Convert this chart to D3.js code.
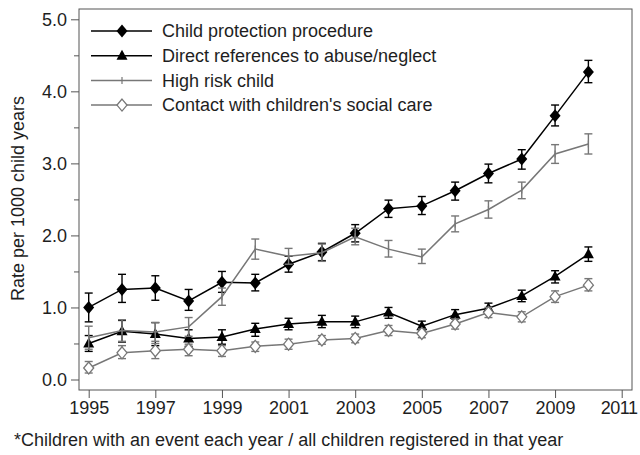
<!DOCTYPE html>
<html>
<head>
<meta charset="utf-8">
<script src="https://cdn.jsdelivr.net/npm/d3@7"></script>
<style>
  body { margin: 0; background: #fff; }
  svg { display: block; font-family: "Liberation Sans", Arial, sans-serif; }
</style>
</head>
<body>
<svg id="chart" width="640" height="455"></svg>
<script>
const YEARS = [1995, 1996, 1997, 1998, 1999, 2000, 2001, 2002, 2003, 2004, 2005, 2006, 2007, 2008, 2009, 2010];
const X_TICKS = [1995, 1997, 1999, 2001, 2003, 2005, 2007, 2009, 2011];
const Y_TICKS = [0, 1, 2, 3, 4, 5];
const Y_MINOR_TICKS = [0.5, 1.5, 2.5, 3.5, 4.5];

const SERIES_NAMES = [
  "Child protection procedure",
  "Direct references to abuse/neglect",
  "High risk child",
  "Contact with children's social care"
];

const PROTECTION_RATE = [1.00, 1.25, 1.27, 1.09, 1.35, 1.34, 1.60, 1.77, 2.03, 2.37, 2.41, 2.62, 2.86, 3.06, 3.66, 4.27];
const PROTECTION_LOW = [0.80, 1.07, 1.10, 0.96, 1.21, 1.23, 1.49, 1.65, 1.91, 2.25, 2.29, 2.49, 2.73, 2.92, 3.52, 4.12];
const PROTECTION_HIGH = [1.20, 1.46, 1.44, 1.25, 1.50, 1.46, 1.71, 1.89, 2.15, 2.49, 2.54, 2.74, 2.99, 3.19, 3.81, 4.43];

const DIRECT_RATE = [0.50, 0.67, 0.63, 0.57, 0.59, 0.70, 0.77, 0.80, 0.80, 0.93, 0.74, 0.90, 0.99, 1.16, 1.43, 1.74];
const DIRECT_LOW = [0.39, 0.52, 0.47, 0.46, 0.49, 0.60, 0.69, 0.72, 0.72, 0.85, 0.67, 0.84, 0.92, 1.08, 1.34, 1.64];
const DIRECT_HIGH = [0.61, 0.82, 0.79, 0.69, 0.69, 0.78, 0.85, 0.89, 0.88, 1.00, 0.81, 0.97, 1.06, 1.24, 1.51, 1.84];

const RISK_RATE = [0.58, 0.68, 0.66, 0.73, 1.15, 1.81, 1.71, 1.76, 1.98, 1.81, 1.70, 2.16, 2.36, 2.63, 3.13, 3.27];
const RISK_LOW = [0.42, 0.53, 0.53, 0.60, 1.03, 1.67, 1.60, 1.64, 1.87, 1.70, 1.61, 2.05, 2.24, 2.51, 3.00, 3.13];
const RISK_HIGH = [0.74, 0.83, 0.79, 0.86, 1.27, 1.95, 1.82, 1.88, 2.10, 1.93, 1.81, 2.27, 2.48, 2.74, 3.26, 3.41];

const CONTACT_RATE = [0.16, 0.37, 0.40, 0.42, 0.40, 0.46, 0.49, 0.55, 0.57, 0.68, 0.64, 0.77, 0.93, 0.87, 1.15, 1.31];
const CONTACT_LOW = [0.09, 0.29, 0.29, 0.33, 0.32, 0.39, 0.42, 0.49, 0.51, 0.61, 0.58, 0.70, 0.86, 0.80, 1.07, 1.23];
const CONTACT_HIGH = [0.25, 0.47, 0.50, 0.49, 0.47, 0.52, 0.56, 0.61, 0.63, 0.75, 0.70, 0.84, 1.00, 0.94, 1.23, 1.40];

const TEXT_COLOR = "#1e1e1e";
const BLACK = "#000";
const GREY = "#777";


function buildSeries() {
  const rates = [PROTECTION_RATE, DIRECT_RATE, RISK_RATE, CONTACT_RATE];
  const lows = [PROTECTION_LOW, DIRECT_LOW, RISK_LOW, CONTACT_LOW];
  const highs = [PROTECTION_HIGH, DIRECT_HIGH, RISK_HIGH, CONTACT_HIGH];
  const colors = [BLACK, BLACK, GREY, GREY];
  const markers = ["diamond", "triangle", "plus", "hollow"];

  return SERIES_NAMES.map((name, i) => ({
    "name": name,
    "color": colors[i],
    "marker": markers[i],
    "points": YEARS.map((year, j) => ({
      "year": year,
      "rate": rates[i][j],
      "low": lows[i][j],
      "high": highs[i][j]
    }))
  }));
}


function drawMarker(group, marker, color) {
  if (marker === "diamond") {
    group.append("path")
      .attr("d", "M0,-6.5L5.5,0L0,6.5L-5.5,0Z")
      .attr("fill", color);
  } else if (marker === "triangle") {
    group.append("path")
      .attr("d", "M0,-6L5.5,4L-5.5,4Z")
      .attr("fill", color);
  } else if (marker === "hollow") {
    group.append("path")
      .attr("d", "M0,-6L5,0L0,6L-5,0Z")
      .attr("fill", "#fff")
      .attr("stroke", color)
      .attr("stroke-width", 1.3);
  } else {
    group.append("path")
      .attr("d", "M0,-3.5V3.5")
      .attr("stroke", color)
      .attr("stroke-width", 1.2);
  }
}


function drawChart() {
  const svg = d3.select("#chart");
  const series = buildSeries();

  const xScale = d3.scaleLinear()
    .domain([1995, 2011])
    .range([88.7, 621.7]);

  const yScale = d3.scaleLinear()
    .domain([0, 5])
    .range([379.5, 19.3]);

  const frame = { "left": 79, "right": 632, "top": 9, "bottom": 390 };

  svg.append("rect")
    .attr("x", frame.left)
    .attr("y", frame.top)
    .attr("width", frame.right - frame.left)
    .attr("height", frame.bottom - frame.top)
    .attr("fill", "none")
    .attr("stroke", "#555")
    .attr("stroke-width", 1);

  // axes
  const yAxis = d3.axisLeft(yScale)
    .tickValues(Y_TICKS)
    .tickFormat(d3.format(".1f"))
    .tickSize(8)
    .tickPadding(4);

  const yGroup = svg.append("g")
    .attr("transform", "translate(" + frame.left + ",0)")
    .call(yAxis);

  const yMinor = d3.axisLeft(yScale)
    .tickValues(Y_MINOR_TICKS)
    .tickFormat("")
    .tickSize(5);

  const yMinorGroup = svg.append("g")
    .attr("transform", "translate(" + frame.left + ",0)")
    .call(yMinor);

  const xAxis = d3.axisBottom(xScale)
    .tickValues(X_TICKS)
    .tickFormat(d3.format("d"))
    .tickSize(8)
    .tickPadding(3);

  const xGroup = svg.append("g")
    .attr("transform", "translate(0," + frame.bottom + ")")
    .call(xAxis);

  [yGroup, yMinorGroup, xGroup].forEach((g) => {
    g.select(".domain").remove();
    g.selectAll(".tick line").attr("stroke", "#555");
    g.selectAll(".tick text")
      .attr("fill", TEXT_COLOR)
      .style("font-size", "18px");
  });

  // last year label sits on the right edge, nudge it in a bit
  xGroup.selectAll(".tick text")
    .filter((d) => d === 2011)
    .attr("dx", -3)
    .style("letter-spacing", "-0.5px");

  svg.append("text")
    .attr("transform", "translate(24,198.5) rotate(-90)")
    .attr("text-anchor", "middle")
    .attr("fill", TEXT_COLOR)
    .style("font-size", "18px")
    .text("Rate per 1000 child years");

  // lines, error bars, markers
  const line = d3.line()
    .x((d) => xScale(d.year))
    .y((d) => yScale(d.rate));

  series.forEach((s) => {
    const g = svg.append("g");

    g.append("path")
      .datum(s.points)
      .attr("d", line)
      .attr("fill", "none")
      .attr("stroke", s.color)
      .attr("stroke-width", 1.5);

    const bars = g.selectAll(".err")
      .data(s.points)
      .enter()
      .append("g")
      .classed("err", true)
      .attr("stroke", s.color)
      .attr("stroke-width", 1.4);

    bars.append("line")
      .attr("x1", (d) => xScale(d.year))
      .attr("x2", (d) => xScale(d.year))
      .attr("y1", (d) => yScale(d.low))
      .attr("y2", (d) => yScale(d.high));

    ["low", "high"].forEach((key) => {
      bars.append("line")
        .attr("x1", (d) => xScale(d.year) - 4)
        .attr("x2", (d) => xScale(d.year) + 4)
        .attr("y1", (d) => yScale(d[key]))
        .attr("y2", (d) => yScale(d[key]));
    });

    g.selectAll(".mark")
      .data(s.points)
      .enter()
      .append("g")
      .classed("mark", true)
      .attr("transform", (d) => "translate(" + xScale(d.year) + "," + yScale(d.rate) + ")")
      .each(function () {
        drawMarker(d3.select(this), s.marker, s.color);
      });
  });

  // legend
  const legend = svg.append("g")
    .attr("transform", "translate(91,31)");

  const rows = legend.selectAll(".legend-row")
    .data(series)
    .enter()
    .append("g")
    .classed("legend-row", true)
    .attr("transform", (d, i) => "translate(0," + (i * 24.7) + ")");

  rows.append("line")
    .attr("x1", 0)
    .attr("x2", 61)
    .attr("stroke", (d) => d.color)
    .attr("stroke-width", 1.5);

  rows.append("g")
    .attr("transform", "translate(31,0)")
    .each(function (d) {
      drawMarker(d3.select(this), d.marker, d.color);
    });

  rows.append("text")
    .attr("x", 71)
    .attr("dy", "0.35em")
    .attr("fill", TEXT_COLOR)
    .style("font-size", "18px")
    .text((d) => d.name);

  svg.append("text")
    .attr("x", 14)
    .attr("y", 446)
    .attr("fill", TEXT_COLOR)
    .style("font-size", "18px")
    .text("*Children with an event each year / all children registered in that year");
}

drawChart();
</script>
</body>
</html>
